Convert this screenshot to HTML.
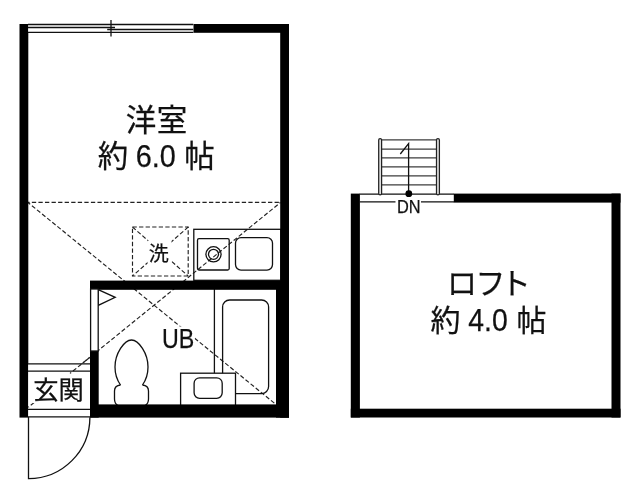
<!DOCTYPE html>
<html lang="ja">
<head>
<meta charset="utf-8">
<title>間取り図</title>
<style>
  html, body { margin: 0; padding: 0; background: #fff; }
  body { width: 640px; height: 499px; overflow: hidden; }
  svg { display: block; will-change: transform; }
  .t { font-family: "Liberation Sans", "Noto Sans CJK JP", sans-serif; fill: #111; stroke: #111; stroke-width: 0.25; }
  .wall { fill: #000; }
  .ln { fill: none; stroke: #111; stroke-width: 1.3; }
  .lnw { fill: #fff; stroke: #111; stroke-width: 1.3; }
  .dash { fill: none; stroke: #222; stroke-width: 1.15; stroke-dasharray: 4.3 2.26; }
  .step { fill: none; stroke: #3c3c3c; stroke-width: 1.25; }
</style>
</head>
<body>
<svg width="640" height="499" viewBox="0 0 640 499">
  <rect x="0" y="0" width="640" height="499" fill="#fff"/>

  <!-- ===== 1F : dashed loft outline ===== -->
  <g class="dash">
    <line x1="28" y1="202.4" x2="280.5" y2="202.4" stroke-dashoffset="2.7"/>
    <line x1="28" y1="202.5" x2="276" y2="404.5" stroke-dashoffset="1.5"/>
    <line x1="280.5" y1="202.5" x2="28.3" y2="407.3" stroke-dashoffset="3"/>
  </g>

  <!-- washing machine space -->
  <g class="dash">
    <rect x="132.5" y="227" width="55.7" height="49"/>
    <line x1="132.5" y1="227" x2="188.2" y2="276"/>
    <line x1="188.2" y1="227" x2="132.5" y2="276"/>
  </g>
  <rect x="147.5" y="240.5" width="24" height="23" fill="#fff"/>
  <text class="t" x="158.7" y="260.5" font-size="20" text-anchor="middle">洗</text>

  <!-- kitchen -->
  <rect class="ln" x="193.8" y="229.3" width="87" height="51"/>
  <rect class="ln" x="197.5" y="238.7" width="31.7" height="31.3" rx="1.5"/>
  <circle class="ln" cx="213.5" cy="254.3" r="7.6"/>
  <circle class="ln" cx="213.5" cy="254.3" r="5"/>
  <rect class="ln" x="235.5" y="237.6" width="37" height="32.5" rx="5.5"/>

  <!-- bath -->
  <line class="ln" x1="214.4" y1="288" x2="214.4" y2="374"/>
  <rect class="ln" x="222.6" y="300" width="46" height="93.6" rx="7"/>
  <!-- UB sink -->
  <rect class="lnw" x="180.6" y="373.2" width="54.9" height="33"/>
  <rect class="ln" x="194.1" y="377.8" width="28.1" height="20.5" rx="5.5"/>

  <!-- toilet -->
  <path class="ln" d="M120.5 385 C117 380 115 374 115 367 C115 353.5 124.3 340 131.5 340 C138.7 340 148 353.5 148 367 C148 374 146 380 142.5 385"/>
  <path class="ln" d="M120.5 385 C117.5 385.3 114.5 387 114.5 391 L114.5 399 C114.5 402 116 404.5 118 405.5 M142.5 385 C145.5 385.3 148.5 387 148.5 391 L148.5 399 C148.5 402 147 404.5 145 405.5"/>

  <!-- UB door marker -->
  <path class="ln" d="M98.2 289.6 L115.2 297.3 L98.2 305.4 Z"/>

  <!-- ===== 1F walls ===== -->
  <rect class="wall" x="19.5" y="24" width="8.8" height="393.6"/>
  <rect class="wall" x="193.3" y="24" width="95.7" height="8.8"/>
  <rect class="wall" x="280.2" y="24" width="8.8" height="393.6"/>
  <rect class="wall" x="276" y="281" width="13" height="136.6"/>
  <rect class="wall" x="90" y="404.4" width="199" height="13.2"/>
  <rect class="wall" x="90" y="280.6" width="199" height="9.2"/>
  <rect class="wall" x="90" y="350.6" width="8.7" height="67"/>
  <!-- UB door (thin) -->
  <rect class="lnw" x="90.6" y="289" width="7.6" height="62"/>

  <!-- window -->
  <rect x="28.3" y="24" width="165" height="8.8" fill="#fff"/>
  <line class="ln" x1="28" y1="24.5" x2="193.3" y2="24.5"/>
  <line class="ln" x1="28" y1="32.4" x2="193.3" y2="32.4"/>
  <line class="ln" x1="28" y1="27.5" x2="115" y2="27.5"/>
  <line class="ln" x1="107.2" y1="29.5" x2="193.3" y2="29.5"/>
  <line class="ln" x1="111" y1="20" x2="111" y2="36.6" stroke="#333"/>

  <!-- genkan -->
  <rect x="28.3" y="363.5" width="61.7" height="53.5" fill="#fff"/>
  <line class="dash" x1="38" y1="399.4" x2="28.3" y2="407.3" stroke-dashoffset="1.5"/>
  <line class="dash" x1="90" y1="357.2" x2="70" y2="373.4" stroke-dashoffset="2"/>
  <rect x="33" y="376" width="52" height="27" fill="#fff"/>
  <line class="ln" x1="28" y1="363.8" x2="90" y2="363.8"/>
  <line class="ln" x1="28" y1="371.2" x2="90" y2="371.2"/>
  <line class="ln" x1="28" y1="409.4" x2="90" y2="409.4"/>
  <line class="ln" x1="28" y1="416.9" x2="90" y2="416.9"/>
  <text class="t" x="58.5" y="398.6" font-size="25.3" text-anchor="middle">玄関</text>
  <!-- entrance door -->
  <path class="ln" d="M28.5 417 L28.5 478.6 A61.4 61.4 0 0 0 89.9 417.2"/>

  <!-- labels -->
  <text class="t" x="125.8 156.8" y="131.1" font-size="30.5">洋室</text>
  <text class="t" y="167.1" font-size="30.5"><tspan x="97.8">約</tspan> <tspan x="135.8" y="167.2" font-size="31.6" textLength="40" lengthAdjust="spacingAndGlyphs">6.0</tspan> <tspan x="184.2" y="167.1">帖</tspan></text>
  <rect x="161.5" y="326.5" width="33.3" height="23.5" fill="#fff"/>
  <text class="t" x="161.9" y="348.1" font-size="27.3" textLength="32.3" lengthAdjust="spacingAndGlyphs">UB</text>

  <!-- ===== Loft ===== -->
  <rect class="wall" x="350.8" y="193.6" width="9.1" height="223.9"/>
  <rect class="wall" x="350.8" y="408.7" width="269.7" height="8.8"/>
  <rect class="wall" x="611.5" y="193.6" width="9" height="223.9"/>
  <rect class="wall" x="453.8" y="193.6" width="166.7" height="9"/>
  <line class="ln" x1="359.5" y1="194.2" x2="454" y2="194.2" stroke-width="1.5"/>
  <line class="ln" x1="359.5" y1="201.9" x2="454" y2="201.9" stroke-width="1.5"/>

  <!-- stairs -->
  <g class="step">
    <line x1="381" y1="139.8" x2="437" y2="139.8"/>
    <line x1="381" y1="149" x2="437" y2="149"/>
    <line x1="381" y1="157.8" x2="437" y2="157.8"/>
    <line x1="381" y1="166.9" x2="437" y2="166.9"/>
    <line x1="381" y1="175.9" x2="437" y2="175.9"/>
    <line x1="381" y1="184.8" x2="437" y2="184.8"/>
  </g>
  <rect x="378.7" y="138.5" width="2.9" height="56.3" rx="1.4" fill="#e4e4e4" stroke="#222" stroke-width="1.25"/>
  <rect x="436.5" y="138.5" width="2.9" height="56.3" rx="1.4" fill="#e4e4e4" stroke="#222" stroke-width="1.25"/>
  <path class="ln" d="M408.6 193.7 L408.6 143.6 L400.3 154" stroke-width="1.4"/>
  <circle cx="408.8" cy="193.7" r="3.4" fill="#000"/>
  <rect x="395.5" y="199" width="25.5" height="15" fill="#fff"/>
  <text class="t" x="396.9" y="212.9" font-size="18.4" textLength="23.6" lengthAdjust="spacingAndGlyphs">DN</text>

  <text class="t" x="447 475.6 500.8" y="294.4" font-size="30">ロフト</text>
  <text class="t" y="331" font-size="30"><tspan x="430.4">約</tspan> <tspan x="468.3" y="331.2" font-size="31.6" textLength="39.4" lengthAdjust="spacingAndGlyphs">4.0</tspan> <tspan x="516.4" y="331">帖</tspan></text>
</svg>
</body>
</html>
